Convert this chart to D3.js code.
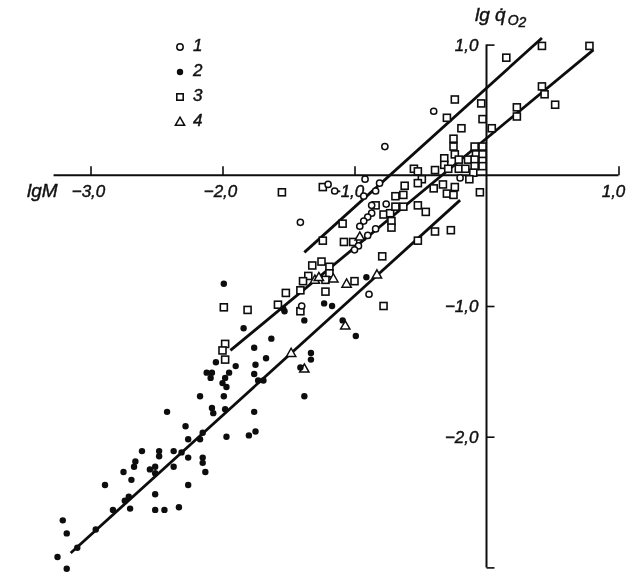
<!DOCTYPE html>
<html><head><meta charset="utf-8">
<style>html,body{margin:0;padding:0;background:#fff}svg{display:block;filter:blur(.35px)}
text{font-family:"Liberation Sans Narrow","Liberation Sans",sans-serif;font-style:italic;font-size:17px;fill:#111;stroke:#111;stroke-width:.45px}</style>
<script src="https://cdn.jsdelivr.net/npm/d3@7"></script></head><body><svg id="c" width="639" height="583"></svg>
<script>
const series1 = [[-.40,.49],[-.77,.22],[-.92,-.03],[-.81,-.06],[-.84,-.12],[-.93,-.16],[-1.20,-.07],[-1.15,-.12],[-.76,-.22],[-.20,-.02],[-1.41,-.36],[-.87,-.23],[-.87,-.29],[-.90,-.32],[-.93,-.35],[-.96,-.39],[-.84,-.41],[-.90,-.46],[-.97,-.54],[-1.00,-.57],[-1.40,-1.00],[-.89,-.91]];
const series2 = [[-1.99,-.83],[-.91,-.78],[-1.23,-.98],[-1.17,-1.00],[-1.53,-1.04],[-1.54,-1.02],[-1.38,-1.11],[-1.09,-1.11],[-.99,-1.23],[-1.84,-1.17],[-1.63,-1.25],[-1.76,-1.32],[-1.67,-1.40],[-1.75,-1.45],[-2.05,-1.43],[-1.90,-1.46],[-1.33,-1.36],[-1.33,-1.41],[-1.41,-1.47],[-2.12,-1.51],[-2.08,-1.51],[-2.09,-1.55],[-1.95,-1.51],[-1.98,-1.55],[-2.00,-1.59],[-1.97,-1.62],[-1.76,-1.52],[-1.73,-1.57],[-1.69,-1.57],[-2.17,-1.69],[-1.99,-1.69],[-2.08,-1.78],[-2.07,-1.82],[-1.98,-1.79],[-1.76,-1.81],[-2.42,-1.81],[-2.28,-1.92],[-2.15,-1.97],[-2.17,-2.02],[-2.26,-2.02],[-1.97,-2.00],[-1.80,-1.99],[-1.75,-1.96],[-1.38,-1.69],[-2.61,-2.11],[-2.48,-2.11],[-2.48,-2.15],[-2.37,-2.11],[-2.31,-2.12],[-2.26,-2.16],[-2.15,-2.16],[-2.15,-2.20],[-2.13,-2.27],[-2.37,-2.23],[-2.66,-2.19],[-2.67,-2.23],[-2.75,-2.27],[-2.69,-2.33],[-2.55,-2.25],[-2.51,-2.23],[-2.51,-2.28],[-2.89,-2.37],[-2.26,-2.37],[-2.51,-2.44],[-2.71,-2.46],[-2.74,-2.49],[-2.70,-2.55],[-2.51,-2.56],[-2.44,-2.56],[-2.33,-2.54],[-2.83,-2.56],[-2.96,-2.71],[-3.21,-2.64],[-3.18,-2.74],[-3.10,-2.85],[-3.25,-2.92],[-3.18,-3.01]];
const series3 = [[.42,.99],[.78,.99],[.15,.90],[.42,.68],[.44,.62],[.52,.54],[.23,.52],[.23,.45],[.04,.36],[-.24,.58],[-.04,.55],[-.30,.44],[-.03,.43],[-.19,.36],[-.25,.28],[-.25,.22],[-.24,.16],[-.09,.22],[-.03,.22],[-.08,.16],[-.03,.16],[-.14,.12],[-.09,.12],[-.03,.11],[-.32,.13],[-.32,.08],[-.21,.12],[-.09,.07],[-.03,.07],[-.10,.02],[-.21,.05],[-.16,.05],[-.29,.05],[-.39,.04],[-.55,.05],[-.52,.03],[-.49,-.03],[-.52,-.06],[-.62,-.08],[-.63,-.15],[-.63,-.24],[-.40,-.10],[-.33,-.07],[-.30,-.14],[-.24,-.09],[-.25,-.15],[-.13,-.03],[-.05,-.13],[-.52,-.23],[-.46,-.28],[-1.24,-.09],[-1.55,-.13],[-.69,-.16],[-.78,-.30],[-.73,-.29],[-.69,-.24],[-.72,-.35],[-.72,-.40],[-1.09,-.37],[-1.24,-.50],[-1.08,-.51],[-1.01,-.51],[-.79,-.62],[-1.25,-.66],[-1.19,-.70],[-1.32,-.69],[-1.19,-.75],[-1.35,-.77],[-1.39,-.81],[-1.22,-.80],[-1.00,-.81],[-1.41,-.88],[-1.52,-.90],[-1.22,-.89],[-1.58,-.99],[-1.99,-1.01],[-1.81,-1.03],[-1.41,-1.04],[-.78,-1.00],[-1.98,-1.29],[-2.00,-1.34],[-1.98,-1.41],[-.52,-.50],[-.39,-.43],[-.27,-.42],[-.84,-.23]];
const series4 = [[-.96,-.47],[-1.16,-.79],[-1.30,-.80],[-1.27,-.78],[-1.06,-.83],[-.83,-.76],[-1.07,-1.15],[-1.48,-1.36],[-1.38,-1.48]];
const fitLines = [[[.42,1.05],[-1.38,-.59]],[[.81,.96],[-1.94,-1.34]],[[-.20,-.19],[-3.15,-2.89]]];
const xTicks = [-3,-2,-1,1];
const yTicks = [1,-1,-2,-3];
const xTickLabels = ["−3,0","−2,0","−1,0","1,0"];
const yTickLabels = ["1,0","−1,0","−2,0"];
const legendLabels = ["1","2","3","4"];
const ink = "#0d0d0d";

const svg = d3.select("#c");
const x = d3.scaleLinear().domain([0,1]).range([486.5,618.5]);
const y = d3.scaleLinear().domain([0,1]).range([175.3,44.6]);

// axes
const xAxis = svg.append("g").attr("transform",`translate(0,${y(0)})`)
  .call(d3.axisTop(x).tickValues(xTicks).tickSize(9).tickFormat(""));
const yAxis = svg.append("g").attr("transform",`translate(${x(0)},0)`)
  .call(d3.axisRight(y).tickValues(yTicks).tickSize(8).tickFormat(""));
xAxis.select(".domain").remove(); yAxis.select(".domain").remove();
svg.selectAll(".tick line").attr("stroke",ink).attr("stroke-width",1.6);
svg.append("line").attr("x1",x(-3.28)).attr("x2",x(1)).attr("y1",y(0)).attr("y2",y(0)).attr("stroke",ink).attr("stroke-width",2);
svg.append("line").attr("x1",x(0)).attr("x2",x(0)).attr("y1",y(1)).attr("y2",y(-3)).attr("stroke",ink).attr("stroke-width",2);

// tick labels
svg.selectAll(".xl").data(xTicks).join("text").attr("class","xl")
  .attr("x",(d,i)=>x(d)+[-2,-2,-7,-5][i]).attr("y",y(0)+22).attr("text-anchor","middle")
  .text((d,i)=>xTickLabels[i]);
svg.selectAll(".yl").data(yTicks.slice(0,3)).join("text").attr("class","yl")
  .attr("x",x(0)-8).attr("y",d=>y(d)+6).attr("text-anchor","end")
  .text((d,i)=>yTickLabels[i]);
svg.append("text").attr("x",27).attr("y",y(0)+22).text("lgM").style("font-size","19px");
const t = svg.append("text").attr("x",475).attr("y",21);
t.append("tspan").text("lg q̇").style("font-size","19px");
t.append("tspan").attr("dy",4).attr("dx",2).text("O").style("font-size","14px");
t.append("tspan").attr("dy",2).text("2").style("font-size","14px");

// fit lines
svg.selectAll(".fit").data(fitLines).join("line").attr("class","fit")
  .attr("x1",d=>x(d[0][0])).attr("y1",d=>y(d[0][1])).attr("x2",d=>x(d[1][0])).attr("y2",d=>y(d[1][1]))
  .attr("stroke",ink).attr("stroke-width",2.8);

// marks
function circle(g,cx,cy,r){g.append("circle").attr("cx",cx).attr("cy",cy).attr("r",r).attr("fill","#fff").attr("stroke",ink).attr("stroke-width",1.5);}
function dot(g,cx,cy,r){g.append("circle").attr("cx",cx).attr("cy",cy).attr("r",r).attr("fill",ink);}
function square(g,cx,cy,s){g.append("rect").attr("x",cx-s/2).attr("y",cy-s/2).attr("width",s).attr("height",s).attr("fill","#fff").attr("stroke",ink).attr("stroke-width",1.6);}
function tri(g,cx,cy,s){g.append("path").attr("d",`M${cx},${cy-s*.6}L${cx+s*.58},${cy+s*.42}L${cx-s*.58},${cy+s*.42}Z`).attr("fill","#fff").attr("stroke",ink).attr("stroke-width",1.5);}
const g = svg.append("g");
series3.forEach(d=>square(g,x(d[0]),y(d[1]),7));
series1.forEach(d=>circle(g,x(d[0]),y(d[1]),3.1));
series4.forEach(d=>tri(g,x(d[0]),y(d[1]),8));
series2.forEach(d=>dot(g,x(d[0]),y(d[1]),3.2));

// legend
const legY = d3.scalePoint().domain(legendLabels).range([47,122]);
const lg = svg.append("g");
circle(lg,180,legY("1"),3.2); dot(lg,180,legY("2"),3.2); square(lg,180,legY("3"),6.4); tri(lg,180,legY("4"),8);
lg.selectAll("text").data(legendLabels).join("text").attr("x",193).attr("y",d=>legY(d)+4).text(d=>d);
</script></body></html>
